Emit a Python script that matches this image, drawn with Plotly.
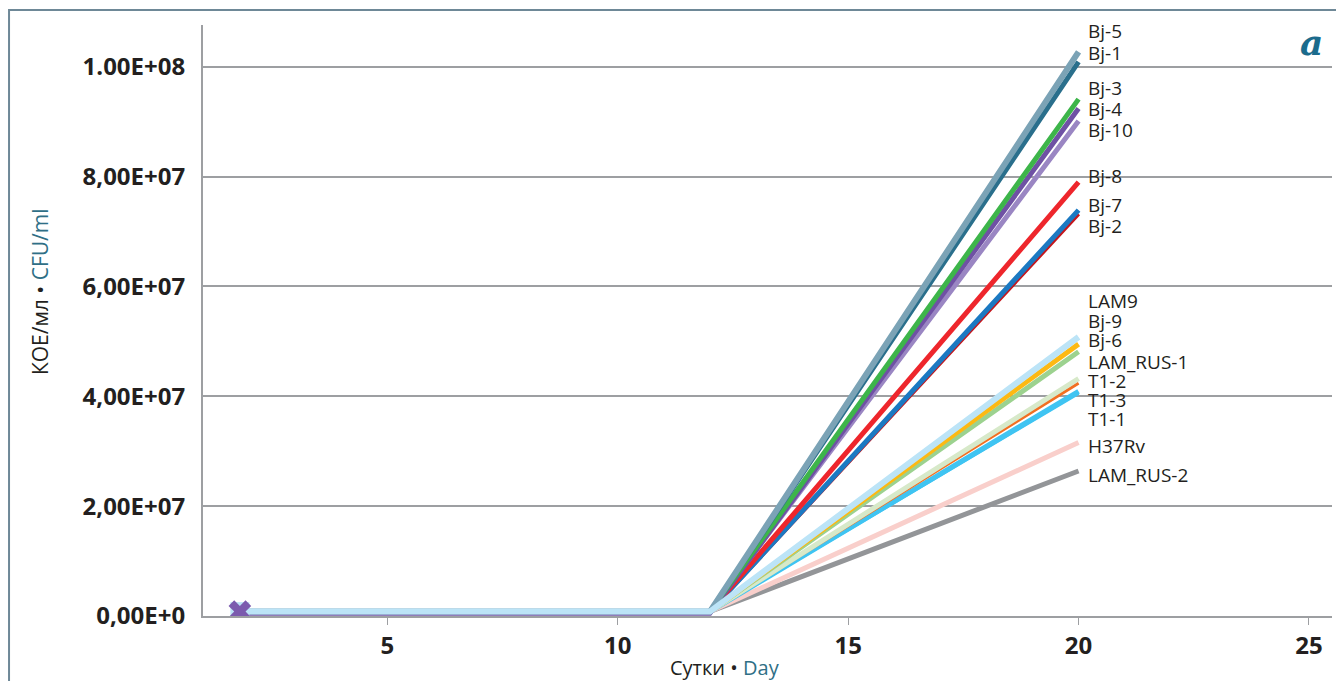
import plotly.graph_objects as go

days = [1.8, 12, 20]

strains = ["Bj-5", "Bj-1", "Bj-3", "Bj-4", "Bj-10", "Bj-8", "Bj-7", "Bj-2",
           "LAM9", "Bj-9", "Bj-6", "LAM_RUS-1", "T1-2", "T1-3", "T1-1", "H37Rv", "LAM_RUS-2"]

values = {
    "Bj-5":      [8e5, 8e5, 1.027e8],
    "Bj-1":      [8e5, 8e5, 1.009e8],
    "Bj-3":      [8e5, 8e5, 9.41e7],
    "Bj-4":      [5e5, 5e5, 9.24e7],
    "Bj-10":     [8e5, 8e5, 9.01e7],
    "Bj-8":      [8e5, 8e5, 7.90e7],
    "Bj-7":      [8e5, 8e5, 7.39e7],
    "Bj-2":      [8e5, 8e5, 7.32e7],
    "LAM9":      [8e5, 8e5, 5.08e7],
    "Bj-9":      [8e5, 8e5, 4.95e7],
    "Bj-6":      [8e5, 8e5, 4.81e7],
    "LAM_RUS-1": [8e5, 8e5, 4.32e7],
    "T1-2":      [8e5, 8e5, 4.24e7],
    "T1-3":      [8e5, 8e5, 4.09e7],
    "T1-1":      [8e5, 8e5, 4.05e7],
    "H37Rv":     [8e5, 8e5, 3.16e7],
    "LAM_RUS-2": [8e5, 8e5, 2.64e7],
}

colors = {
    "Bj-5": "#7BA3B6", "Bj-1": "#2A6F8C", "Bj-3": "#3DB54A", "Bj-4": "#6F51A4",
    "Bj-10": "#9A86C3", "Bj-8": "#EE262C", "Bj-7": "#1B79C2", "Bj-2": "#C4161C",
    "LAM9": "#BCE4F7", "Bj-9": "#FDB913", "Bj-6": "#9CD28F", "LAM_RUS-1": "#D7E9C9",
    "T1-2": "#F26F21", "T1-3": "#3FC4F2", "T1-1": "#3FC4F2", "H37Rv": "#F9CFCB",
    "LAM_RUS-2": "#939598",
}
widths = {
    "Bj-5": 6, "Bj-1": 5, "Bj-3": 5, "Bj-4": 5, "Bj-10": 5, "Bj-8": 5, "Bj-7": 5,
    "Bj-2": 4, "LAM9": 6, "Bj-9": 5, "Bj-6": 5, "LAM_RUS-1": 5, "T1-2": 3,
    "T1-3": 5, "T1-1": 3, "H37Rv": 5, "LAM_RUS-2": 5,
}
# label anchor heights (layout)
label_y = {
    "Bj-5": 1.065e8, "Bj-1": 1.025e8, "Bj-3": 9.62e7, "Bj-4": 9.23e7, "Bj-10": 8.85e7,
    "Bj-8": 8.01e7, "Bj-7": 7.48e7, "Bj-2": 7.10e7, "LAM9": 5.73e7, "Bj-9": 5.38e7,
    "Bj-6": 5.02e7, "LAM_RUS-1": 4.62e7, "T1-2": 4.28e7, "T1-3": 3.94e7,
    "T1-1": 3.58e7, "H37Rv": 3.09e7, "LAM_RUS-2": 2.56e7,
}

ytick_vals = [0, 2e7, 4e7, 6e7, 8e7, 1e8]
ytick_text = ["0,00E+0", "2,00E+07", "4,00E+07", "6,00E+07", "8,00E+07", "1.00E+08"]
xtick_vals = [5, 10, 15, 20, 25]

draw_order = ["LAM_RUS-2", "H37Rv", "T1-1", "T1-3", "T1-2", "LAM_RUS-1", "Bj-6", "Bj-9",
              "Bj-2", "Bj-7", "Bj-8", "Bj-10", "Bj-4", "Bj-3", "Bj-1", "Bj-5", "LAM9"]

fig = go.Figure()
for s in draw_order:
    fig.add_trace(go.Scatter(
        x=days, y=values[s], mode="lines", name=s,
        line=dict(color=colors[s], width=widths[s]),
        showlegend=False, hoverinfo="x+y+name"))

# start markers
fig.add_trace(go.Scatter(x=[days[0]], y=[values["LAM9"][0]], mode="markers",
                         marker=dict(symbol="square", size=19, color="#BCE4F7"),
                         showlegend=False))
fig.add_trace(go.Scatter(x=[days[0]], y=[values["LAM9"][0]], mode="markers",
                         marker=dict(symbol="x", size=20, color="#7B5BAE",
                                     line=dict(width=0)),
                         showlegend=False))

for s in strains:
    fig.add_annotation(x=20, y=label_y[s], xref="x", yref="y", text=s,
                       showarrow=False, xanchor="left", xshift=7,
                       font=dict(family="Open Sans", size=19, color="#231F20"))

fig.add_annotation(x=0.982, y=0.971, xref="paper", yref="paper",
                   text="<b><i>a</i></b>", showarrow=False, xanchor="center", yanchor="middle",
                   font=dict(family="DejaVu Serif", size=36, color="#1B6B8C"))

# axis titles
fig.add_annotation(x=-0.1444, y=0.5497, xref="paper", yref="paper", textangle=-90,
                   text="КОЕ/мл • <span style='color:#2F6F86'>CFU/ml</span>",
                   showarrow=False, xanchor="center", yanchor="middle",
                   font=dict(family="Open Sans", size=21, color="#231F20"))
fig.add_annotation(x=0.4624, y=-0.0868, xref="paper", yref="paper",
                   text="Сутки • <span style='color:#2F6F86'>Day</span>",
                   showarrow=False, xanchor="center", yanchor="middle",
                   font=dict(family="Open Sans", size=20, color="#231F20"))

fig.add_shape(type="rect", xref="paper", yref="paper", x0=-0.1718, x1=1.0071, y0=-0.2, y1=1.0254,
              line=dict(color="#6E8897", width=2), fillcolor="rgba(0,0,0,0)", layer="below")

fig.update_layout(
    width=1344, height=681,
    margin=dict(l=195, r=20, t=17, b=73),
    plot_bgcolor="white", paper_bgcolor="white",
    font=dict(family="Open Sans", color="#231F20"),
    xaxis=dict(range=[1, 25.5], tickvals=xtick_vals, ticks="outside", ticklen=7,
               tickcolor="#9D9FA2", showgrid=False, showline=True, linecolor="#9D9FA2",
               linewidth=2, zeroline=False,
               tickfont=dict(family="Open Sans", size=24, color="#231F20", weight="bold")),
    yaxis=dict(range=[0, 1.076e8], tickvals=ytick_vals, ticktext=ytick_text,
               showgrid=True, gridcolor="#9D9FA2", gridwidth=1.5, showline=True,
               linecolor="#9D9FA2", linewidth=2, zeroline=False, ticks="", ticklabelstandoff=11,
               tickfont=dict(family="Open Sans", size=24, color="#231F20", weight="bold")),
)

fig.write_html("out.html")
